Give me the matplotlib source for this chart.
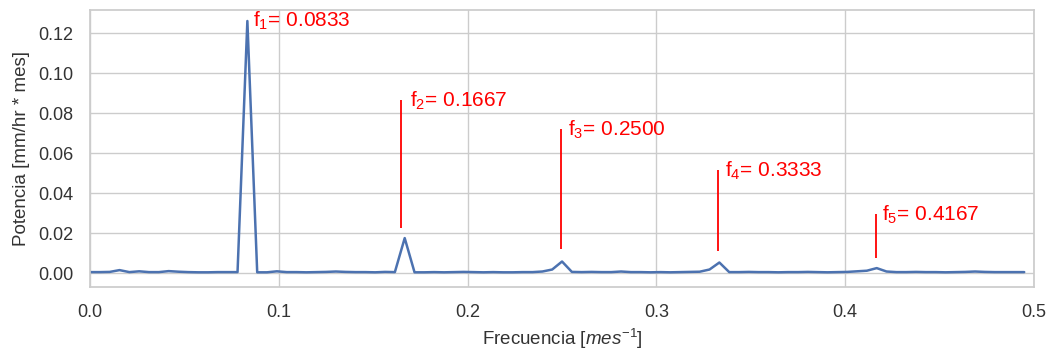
import numpy as np
import matplotlib
matplotlib.use("Agg")
import matplotlib.pyplot as plt
import seaborn as sns

sns.set_theme(style="whitegrid", context="notebook")
plt.rcParams['font.family'] = ['Liberation Sans', 'DejaVu Sans']
plt.rcParams['mathtext.fontset'] = 'custom'
plt.rcParams['mathtext.rm'] = 'Liberation Sans'
plt.rcParams['mathtext.it'] = 'Liberation Sans:italic'

# Periodogram: frequencies k/192 (cycles per month), k = 0..95
n_months = 192
power = [
    0.0005, 0.0005, 0.0006, 0.0015, 0.0005, 0.0009, 0.0005, 0.0005,
    0.0010, 0.0007, 0.0005, 0.0004, 0.0004, 0.0005, 0.0005, 0.0005,
    0.1260, 0.0004, 0.0004, 0.0009, 0.0005, 0.0005, 0.0004, 0.0005,
    0.0006, 0.0008, 0.0006, 0.0005, 0.0005, 0.0004, 0.0006, 0.0005,
    0.0175, 0.0004, 0.0004, 0.0005, 0.0004, 0.0005, 0.0006, 0.0005,
    0.0004, 0.0005, 0.0004, 0.0004, 0.0005, 0.0005, 0.0008, 0.0018,
    0.0058, 0.0006, 0.0005, 0.0006, 0.0005, 0.0005, 0.0008, 0.0005,
    0.0005, 0.0004, 0.0005, 0.0004, 0.0005, 0.0006, 0.0007, 0.0018,
    0.0053, 0.0005, 0.0005, 0.0006, 0.0005, 0.0005, 0.0004, 0.0005,
    0.0005, 0.0006, 0.0005, 0.0004, 0.0005, 0.0006, 0.0009, 0.0012,
    0.0025, 0.0008, 0.0005, 0.0005, 0.0006, 0.0005, 0.0005, 0.0004,
    0.0005, 0.0006, 0.0008, 0.0006, 0.0005, 0.0005, 0.0005, 0.0005,
]
freq = np.arange(len(power)) / n_months

peak_freqs = [0.0833, 0.1667, 0.2500, 0.3333, 0.4167]
peak_labels = ["f$_{1}$= 0.0833", "f$_{2}$= 0.1667", "f$_{3}$= 0.2500",
               "f$_{4}$= 0.3333", "f$_{5}$= 0.4167"]
marker_x = [0.0833, 0.1647, 0.2495, 0.3328, 0.4163]
line_bottoms = [None, 0.0225, 0.0120, 0.0110, 0.0075]
line_tops = [0.1265, 0.0865, 0.0720, 0.0515, 0.0295]

fig = plt.figure(figsize=(10.53, 3.51), dpi=100)
ax = fig.add_axes([0.0855, 0.182, 0.8965, 0.7895])
ax.plot(freq, power, color='#4c72b0', lw=1.8)

for f, mx, lab, yb, yt in zip(peak_freqs, marker_x, peak_labels, line_bottoms, line_tops):
    if yb is not None:
        ax.vlines(mx, yb, yt, color='red', lw=1.3)
    ax.text(f + 0.003, yt - 0.0005, lab, color='red', fontsize=15, va='center', ha='left')

ax.set_xlim(0, 0.5)
ax.set_ylim(-0.007, 0.1315)
ax.set_yticks([0.0, 0.02, 0.04, 0.06, 0.08, 0.10, 0.12])
ax.set_xlabel("Frecuencia [$mes^{-1}$]", fontsize=13.5, color='#333333', labelpad=4.5)
ax.set_ylabel("Potencia [mm/hr * mes]", fontsize=13.5, color='#333333', labelpad=6)
ax.tick_params(labelsize=13, pad=6, labelcolor='#333333')

fig.savefig("out.png", dpi=100)
